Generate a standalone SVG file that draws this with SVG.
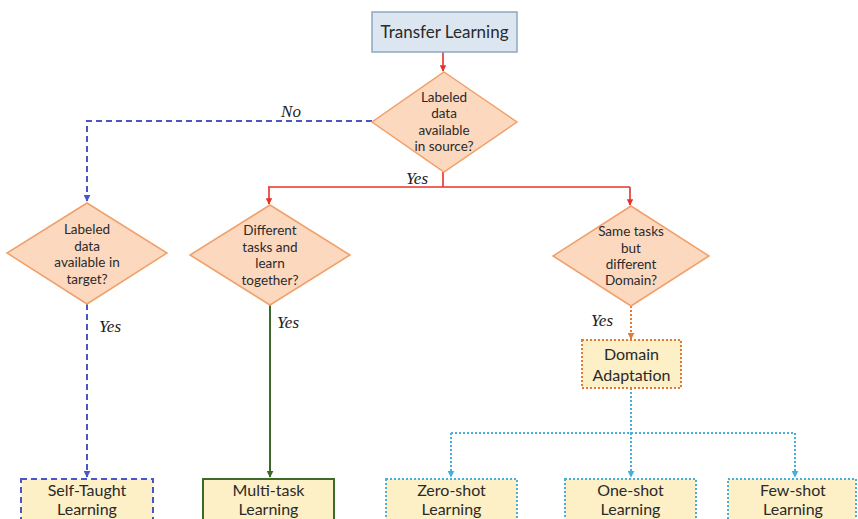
<svg xmlns="http://www.w3.org/2000/svg" width="858" height="519" viewBox="0 0 858 519">
  <style>
    .lbl { font-family: Lato, "Liberation Sans", sans-serif; fill: #2a2a2a; text-anchor: middle; }
    .q { font-size: 13.5px; }
    .box { font-size: 16px; }
    .ans { font-family: "Liberation Serif", serif; font-style: italic; font-size: 17px; fill: #222; text-anchor: middle; }
    .dia { fill: #fcd8bf; stroke: #f0a06a; stroke-width: 1.5; }
    .leaf { fill: #fdefc6; }
    .red { stroke: #e8302a; stroke-width: 1.6; fill: none; }
    .blue { stroke: #4a56c8; stroke-width: 2; fill: none; stroke-dasharray: 6 4; }
    .green { stroke: #3c6a28; stroke-width: 2; fill: none; }
    .orange { stroke: #e07a3a; stroke-width: 2; fill: none; stroke-dasharray: 2 2; }
    .cyan { stroke: #4aaedc; stroke-width: 2; fill: none; stroke-dasharray: 2 2; }
  </style>
  <defs>
    <marker id="ah-red" viewBox="0 0 10 10" refX="9" refY="5" markerWidth="4" markerHeight="4" orient="auto"><path d="M0,0 L10,5 L0,10 z" fill="#e8302a"/></marker>
    <marker id="ah-blue" viewBox="0 0 10 10" refX="9" refY="5" markerWidth="3.5" markerHeight="3.5" orient="auto"><path d="M0,0 L10,5 L0,10 z" fill="#4a56c8"/></marker>
    <marker id="ah-green" viewBox="0 0 10 10" refX="9" refY="5" markerWidth="3.5" markerHeight="3.5" orient="auto"><path d="M0,0 L10,5 L0,10 z" fill="#3c6a28"/></marker>
    <marker id="ah-orange" viewBox="0 0 10 10" refX="9" refY="5" markerWidth="3.5" markerHeight="3.5" orient="auto"><path d="M0,0 L10,5 L0,10 z" fill="#e07a3a"/></marker>
    <marker id="ah-cyan" viewBox="0 0 10 10" refX="9" refY="5" markerWidth="3.5" markerHeight="3.5" orient="auto"><path d="M0,0 L10,5 L0,10 z" fill="#4aaedc"/></marker>
  </defs>

  <rect width="858" height="519" fill="#ffffff"/>

  <!-- connectors -->
  <g id="connectors">
    <path class="red" d="M443,52 V71" marker-end="url(#ah-red)"/>
    <path class="red" d="M443,172 V187"/>
    <path class="red" d="M268,187 H630"/>
    <path class="red" d="M269,187 V204" marker-end="url(#ah-red)"/>
    <path class="red" d="M630,187 V205" marker-end="url(#ah-red)"/>
    <path class="blue" d="M372,121 H87 V201" marker-end="url(#ah-blue)"/>
    <path class="blue" d="M87,304 V477" marker-end="url(#ah-blue)"/>
    <path class="green" d="M270,305 V477" marker-end="url(#ah-green)"/>
    <path class="orange" d="M631,306 V339" marker-end="url(#ah-orange)"/>
    <path class="cyan" d="M631,388 V433"/>
    <path class="cyan" d="M451,433 H795"/>
    <path class="cyan" d="M451,433 V477" marker-end="url(#ah-cyan)"/>
    <path class="cyan" d="M631,433 V477" marker-end="url(#ah-cyan)"/>
    <path class="cyan" d="M795,433 V477" marker-end="url(#ah-cyan)"/>
    <text class="ans" x="291" y="117">No</text>
    <text class="ans" x="417" y="184">Yes</text>
    <text class="ans" x="110" y="332">Yes</text>
    <text class="ans" x="288" y="328">Yes</text>
    <text class="ans" x="602" y="326">Yes</text>
  </g>

  <g id="transfer-learning">
    <rect x="372" y="12" width="145" height="40" fill="#dce6f0" stroke="#8fa8c0" stroke-width="1.5"/>
    <text class="lbl" x="444.5" y="38" font-size="17">Transfer Learning</text>
  </g>

  <g id="q-source">
    <polygon class="dia" points="444,72 517,122 444,172 372,122"/>
    <text class="lbl q" x="444" y="102">Labeled</text>
    <text class="lbl q" x="444" y="118">data</text>
    <text class="lbl q" x="444" y="135">available</text>
    <text class="lbl q" x="444" y="151">in source?</text>
  </g>

  <g id="q-target">
    <polygon class="dia" points="87,203 167,253 87,304 7,253"/>
    <text class="lbl q" x="87" y="234">Labeled</text>
    <text class="lbl q" x="87" y="251">data</text>
    <text class="lbl q" x="87" y="267">available in</text>
    <text class="lbl q" x="87" y="284">target?</text>
  </g>

  <g id="q-tasks">
    <polygon class="dia" points="270,205 350,255 270,305 190,255"/>
    <text class="lbl q" x="270" y="235">Different</text>
    <text class="lbl q" x="270" y="252">tasks and</text>
    <text class="lbl q" x="270" y="268">learn</text>
    <text class="lbl q" x="270" y="285">together?</text>
  </g>

  <g id="q-domain">
    <polygon class="dia" points="631,206 709,256 631,306 553,256"/>
    <text class="lbl q" x="631" y="236">Same tasks</text>
    <text class="lbl q" x="631" y="253">but</text>
    <text class="lbl q" x="631" y="269">different</text>
    <text class="lbl q" x="631" y="285">Domain?</text>
  </g>

  <g id="domain-adaptation">
    <rect class="leaf" x="582" y="340" width="99" height="48" stroke="#e07a3a" stroke-width="2" stroke-dasharray="2 2"/>
    <text class="lbl box" x="631.5" y="360">Domain</text>
    <text class="lbl box" x="631.5" y="381">Adaptation</text>
  </g>

  <g id="self-taught">
    <rect class="leaf" x="21" y="479" width="132" height="50" stroke="#4a56c8" stroke-width="2" stroke-dasharray="6 4"/>
    <text class="lbl box" x="87" y="496">Self-Taught</text>
    <text class="lbl box" x="87" y="515">Learning</text>
  </g>

  <g id="multi-task">
    <rect class="leaf" x="203" y="479" width="131" height="50" stroke="#3c6a28" stroke-width="2"/>
    <text class="lbl box" x="268.5" y="496">Multi-task</text>
    <text class="lbl box" x="268.5" y="515">Learning</text>
  </g>

  <g id="zero-shot">
    <rect class="leaf" x="386" y="479" width="131" height="50" stroke="#4aaedc" stroke-width="2" stroke-dasharray="2 2"/>
    <text class="lbl box" x="451.5" y="496">Zero-shot</text>
    <text class="lbl box" x="451.5" y="515">Learning</text>
  </g>

  <g id="one-shot">
    <rect class="leaf" x="565" y="479" width="131" height="50" stroke="#4aaedc" stroke-width="2" stroke-dasharray="2 2"/>
    <text class="lbl box" x="630.5" y="496">One-shot</text>
    <text class="lbl box" x="630.5" y="515">Learning</text>
  </g>

  <g id="few-shot">
    <rect class="leaf" x="728" y="479" width="128" height="50" stroke="#4aaedc" stroke-width="2" stroke-dasharray="2 2"/>
    <text class="lbl box" x="793" y="496">Few-shot</text>
    <text class="lbl box" x="793" y="515">Learning</text>
  </g>
</svg>
